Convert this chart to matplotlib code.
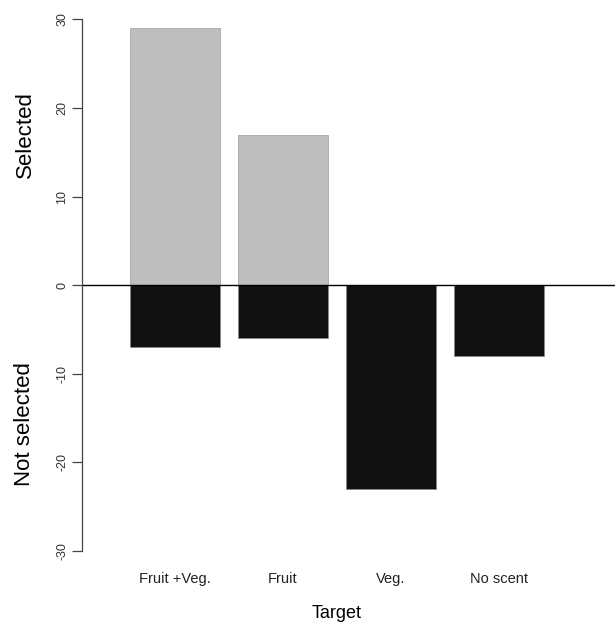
#!/usr/bin/env python3
import matplotlib
matplotlib.use('Agg')
import matplotlib.pyplot as plt
import matplotlib.transforms as mtransforms
import numpy as np

plt.rcParams['font.family'] = ['Liberation Sans', 'DejaVu Sans']

categories = ['Fruit +Veg.', 'Fruit', 'Veg.', 'No scent']
selected = [29, 17, 0, 0]
not_selected = [-7, -6, -23, -8]
y_ticks = [-30, -20, -10, 0, 10, 20, 30]


def main():
    fig = plt.figure(figsize=(6.15, 6.25), dpi=100)
    ax = fig.add_axes([82 / 615, 70 / 625, 533 / 615, 555 / 625])

    # R barplot style: width 1, space 0.2
    x = 0.7 + 1.2 * np.arange(len(categories))
    ax.bar(x, selected, width=1.0, color='#bebebe', edgecolor='#a8a8a8', linewidth=0.6)
    ax.bar(x, not_selected, width=1.0, color='#111111', edgecolor='#888888', linewidth=0.6)
    ax.axhline(0, color='black', linewidth=1.0)

    ax.set_xlim(-0.333, 5.589)
    ax.set_ylim(-30.5, 32.2)

    for s in ['top', 'right', 'bottom']:
        ax.spines[s].set_visible(False)
    ax.spines['left'].set_bounds(-30, 30)
    ax.spines['left'].set_color('#444444')
    ax.spines['left'].set_linewidth(0.9)

    ax.set_yticks(y_ticks)
    ax.set_yticklabels([str(t) for t in y_ticks], rotation=90, va='center',
                       fontsize=9, color='#333333')
    ax.tick_params(axis='y', length=7, width=0.9, color='#444444', pad=3)

    ax.set_xticks(x)
    ax.set_xticklabels(categories, fontsize=10.5, color='#222222')
    ax.tick_params(axis='x', length=0, pad=12)

    xmin, xmax = ax.get_xlim()
    ax.set_xlabel('Target', fontsize=13)
    ax.xaxis.set_label_coords((2.5 - xmin) / (xmax - xmin), -0.09)

    trans = mtransforms.blended_transform_factory(ax.transAxes, ax.transData)
    ax.text(-0.107, 17, 'Selected', rotation=90, ha='center', va='center',
            fontsize=16, transform=trans)
    ax.text(-0.107, -15.7, 'Not selected', rotation=90, ha='center', va='center',
            fontsize=16, transform=trans)

    fig.savefig('out.png', dpi=100)


if __name__ == "__main__":
    main()
